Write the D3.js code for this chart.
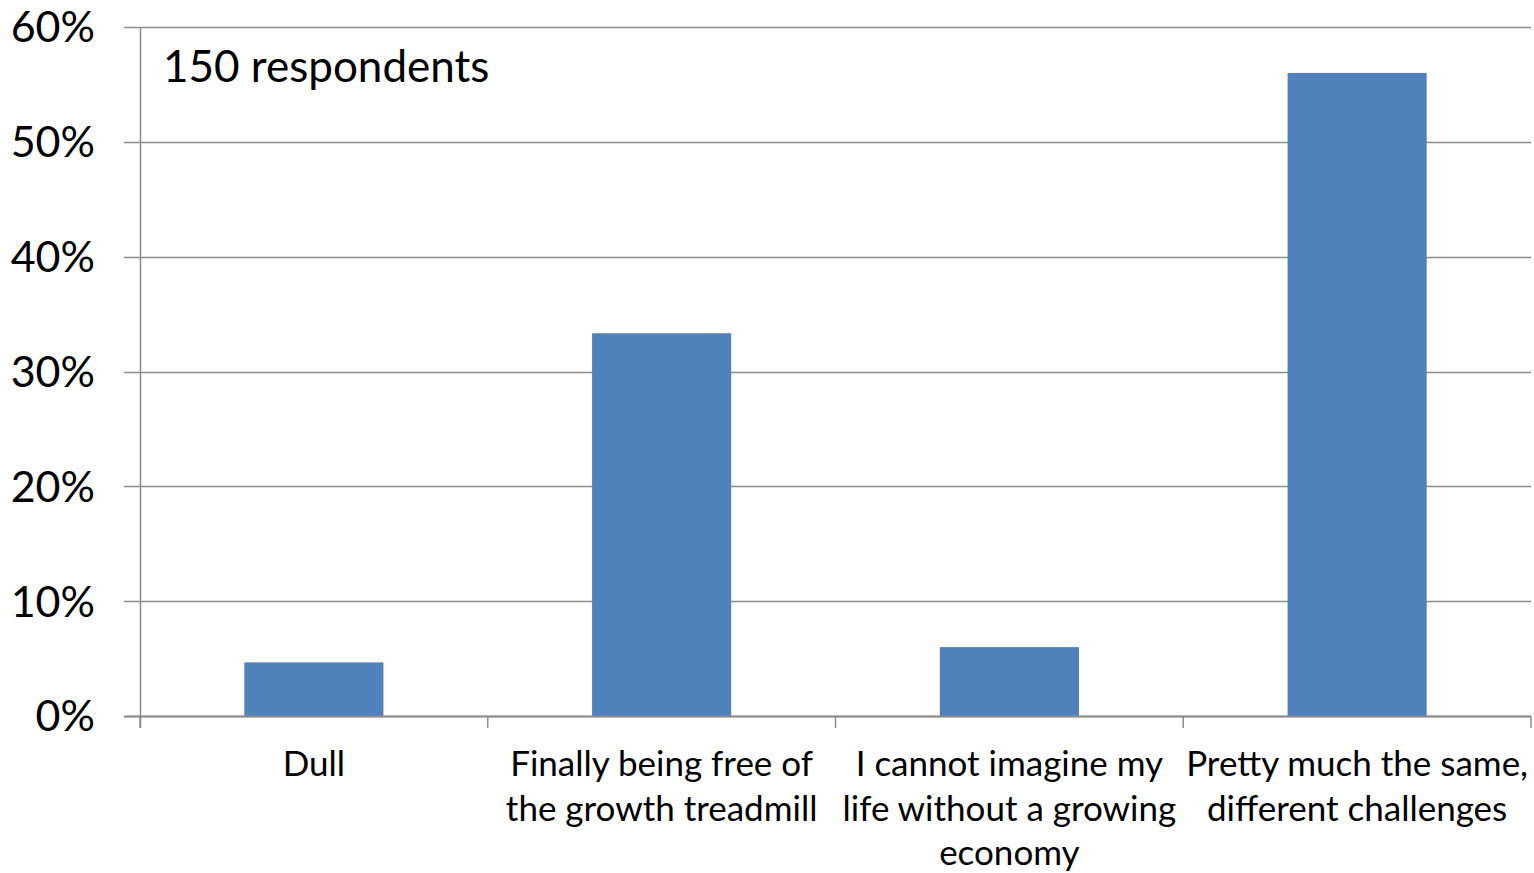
<!DOCTYPE html>
<meta charset="utf-8">
<script src="https://d3js.org/d3.v7.min.js"></script>
<style>
  body { margin: 0; background: #fff; }
  text { font-family: Lato, "Open Sans", sans-serif; fill: #000; }
</style>
<div id="chart"></div>
<script>
// data (share of 150 respondents)
var categories = ["Dull", "Finally being free of the growth treadmill", "I cannot imagine my life without a growing economy", "Pretty much the same, different challenges"];
var labelLines = [["Dull"], ["Finally being free of", "the growth treadmill"], ["I cannot imagine my", "life without a growing", "economy"], ["Pretty much the same,", "different challenges"]];
var values = [0.0467, 0.3333, 0.06, 0.56];
var yTicks = [0, 0.1, 0.2, 0.3, 0.4, 0.5, 0.6];
var note = "150 respondents";

var W = 1534, H = 873;
var margin = {top: 27, right: 3, bottom: 157, left: 140},
    width = W - margin.left - margin.right,
    height = H - margin.top - margin.bottom;

var svg = d3.select("#chart").append("svg")
    .attr("width", W)
    .attr("height", H)
  .append("g")
    .attr("transform", "translate(" + margin.left + "," + margin.top + ")");

var x = d3.scaleBand()
    .domain(categories)
    .range([0, width])
    .paddingInner(0.6)
    .paddingOuter(0.3);

var y = d3.scaleLinear()
    .domain([0, 0.6])
    .range([height, 0]);

// gridlines + y ticks
svg.append("g")
    .selectAll("line")
    .data(yTicks)
    .enter().append("line")
      .attr("x1", -16)
      .attr("x2", width)
      .attr("y1", function(d) { return Math.round(y(d)) + 0.5; })
      .attr("y2", function(d) { return Math.round(y(d)) + 0.5; })
      .attr("stroke", "#8c8c8c")
      .attr("stroke-width", 1.5);

svg.append("g")
    .selectAll("text")
    .data(yTicks)
    .enter().append("text")
      .attr("x", -45)
      .attr("y", function(d) { return y(d); })
      .attr("dy", "0.36em")
      .attr("text-anchor", "end")
      .style("font-size", "43px")
      .text(d3.format(".0%"));

// bars
svg.append("g")
    .selectAll("rect")
    .data(values)
    .enter().append("rect")
      .attr("x", function(d, i) { return x(categories[i]); })
      .attr("y", function(d) { return y(d); })
      .attr("width", x.bandwidth())
      .attr("height", function(d) { return height - y(d); })
      .attr("fill", "#4f81bd");

// axes lines
svg.append("line")
    .attr("x1", 0.5).attr("x2", 0.5)
    .attr("y1", 0).attr("y2", height + 12)
    .attr("stroke", "#8c8c8c").attr("stroke-width", 1.5);

var step = width / categories.length;
svg.append("g")
    .selectAll("line")
    .data(d3.range(categories.length + 1))
    .enter().append("line")
      .attr("x1", function(d) { return d * step; })
      .attr("x2", function(d) { return d * step; })
      .attr("y1", height)
      .attr("y2", height + 12)
      .attr("stroke", "#8c8c8c")
      .attr("stroke-width", 1.5);

svg.append("line")
    .attr("x1", -16).attr("x2", width)
    .attr("y1", height + 0.5).attr("y2", height + 0.5)
    .attr("stroke", "#8c8c8c").attr("stroke-width", 2);

// category labels
svg.append("g")
    .selectAll("text")
    .data(labelLines)
    .enter().append("text")
      .attr("text-anchor", "middle")
      .attr("transform", function(d, i) { return "translate(" + (x(categories[i]) + x.bandwidth() / 2) + "," + (height + 60) + ")"; })
      .style("font-size", "35px")
    .selectAll("tspan")
    .data(function(d) { return d; })
    .enter().append("tspan")
      .attr("x", 0)
      .attr("y", function(d, i) { return i * 44.5; })
      .text(function(d) { return d; });

// annotation
svg.append("text")
    .attr("x", 23)
    .attr("y", 55)
    .style("font-size", "44px")
    .text(note);
</script>
